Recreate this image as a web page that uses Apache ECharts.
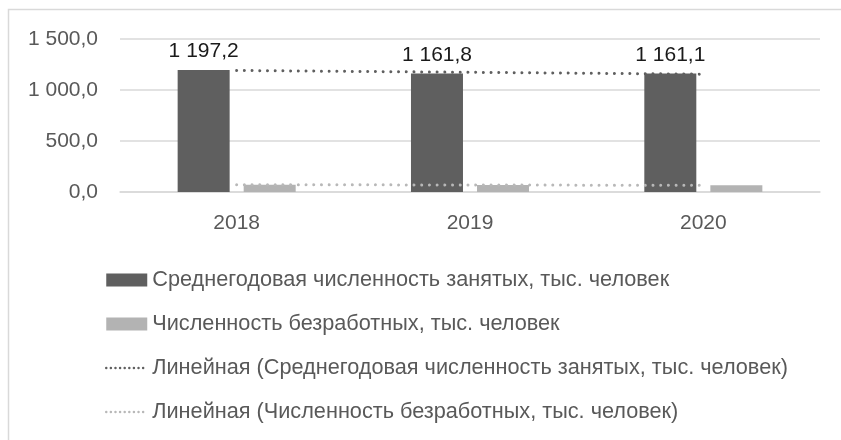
<!DOCTYPE html>
<html>
<head>
<meta charset="utf-8">
<script src="https://cdn.jsdelivr.net/npm/echarts@6/dist/echarts.min.js"></script>
<style>
  html, body { margin: 0; padding: 0; background: #fff; }
  #chart { width: 841px; height: 440px; }
</style>
</head>
<body>
<div id="chart"></div>
<script>
// Years on the category axis
const years = ['2018', '2019', '2020'];
// Average annual number of employed, thousand people
const employed = [1197.2, 1161.8, 1161.1];
// Number of unemployed, thousand people
const unemployed = [71.7, 69.4, 65.3];
// Value axis ticks
const yTicks = [0, 500, 1000, 1500];

const seriesNames = [
  'Среднегодовая численность занятых, тыс. человек',
  'Численность безработных, тыс. человек',
  'Линейная (Среднегодовая численность занятых, тыс. человек)',
  'Линейная (Численность безработных, тыс. человек)'
];

// Least-squares linear trend over x = 1..n
function linearTrend(values) {
  const n = values.length;
  const xs = values.map((_, i) => i + 1);
  const mx = xs.reduce((a, b) => a + b, 0) / n;
  const my = values.reduce((a, b) => a + b, 0) / n;
  let num = 0, den = 0;
  for (let i = 0; i < n; i++) {
    num += (xs[i] - mx) * (values[i] - my);
    den += (xs[i] - mx) * (xs[i] - mx);
  }
  const k = num / den;
  return xs.map(x => my + k * (x - mx));
}

// "1 197,2" style: space thousands separator, comma decimal
function fmt(v) {
  const s = v.toFixed(1).split('.');
  const int = s[0].replace(/\B(?=(\d{3})+(?!\d))/g, ' ');
  return int + ',' + s[1];
}

const FONT = '"Liberation Sans", Arial, sans-serif';
const dotted = [0.01, 7.7];
const legendDots = [0.01, 4.6];

const chart = echarts.init(document.getElementById('chart'), null, { renderer: 'canvas' });

chart.setOption({
  animation: false,
  backgroundColor: '#ffffff',
  textStyle: { fontFamily: FONT },
  graphic: [{
    type: 'rect',
    silent: true,
    shape: { x: 8.5, y: 9.5, width: 900, height: 500 },
    style: { fill: 'none', stroke: '#d9d9d9', lineWidth: 1.5 }
  }],
  grid: { left: 120, right: 21, top: 39, bottom: 248 },
  legend: {
    orient: 'vertical',
    left: 100,
    top: 264,
    itemWidth: 41,
    itemHeight: 13,
    itemGap: 22,
    selectedMode: false,
    textStyle: { color: '#595959', fontSize: 21.7, fontFamily: FONT },
    data: [
      { name: seriesNames[0], icon: 'rect' },
      { name: seriesNames[1], icon: 'rect' },
      {
        name: seriesNames[2],
        itemStyle: { opacity: 0 },
        lineStyle: { type: legendDots, width: 2.5, cap: 'round' }
      },
      {
        name: seriesNames[3],
        itemStyle: { opacity: 0 },
        lineStyle: { type: legendDots, width: 2.5, cap: 'round' }
      }
    ]
  },
  xAxis: {
    type: 'category',
    data: years,
    axisLine: { show: true, lineStyle: { color: '#d9d9d9', width: 1.5 } },
    axisTick: { show: false },
    axisLabel: { color: '#595959', fontSize: 21, margin: 21, fontFamily: FONT }
  },
  yAxis: {
    type: 'value',
    min: yTicks[0],
    max: yTicks[yTicks.length - 1],
    interval: yTicks[1] - yTicks[0],
    axisLine: { show: false },
    axisTick: { show: false },
    splitLine: { lineStyle: { color: '#d9d9d9', width: 1.5 } },
    axisLabel: {
      color: '#595959', fontSize: 21, margin: 22, fontFamily: FONT,
      formatter: v => fmt(v)
    }
  },
  series: [
    {
      name: seriesNames[0],
      type: 'bar',
      data: employed,
      barWidth: 52,
      barGap: '27%',
      itemStyle: { color: '#5f5f5f' },
      label: {
        show: true,
        position: 'top',
        distance: 8,
        color: '#1a1a1a',
        fontSize: 21,
        fontFamily: FONT,
        formatter: p => fmt(p.value)
      },
      z: 2
    },
    {
      name: seriesNames[1],
      type: 'bar',
      data: unemployed,
      barWidth: 52,
      barGap: '27%',
      itemStyle: { color: '#b3b3b3' },
      z: 2
    },
    {
      name: seriesNames[2],
      type: 'line',
      data: linearTrend(employed),
      symbol: 'none',
      lineStyle: { color: '#5f5f5f', width: 3, type: dotted, cap: 'round' },
      itemStyle: { color: '#5f5f5f' },
      z: 5
    },
    {
      name: seriesNames[3],
      type: 'line',
      data: linearTrend(unemployed),
      symbol: 'none',
      lineStyle: { color: '#b8b8b8', width: 3, type: dotted, cap: 'round' },
      itemStyle: { color: '#b8b8b8' },
      z: 5
    }
  ]
});
</script>
</body>
</html>
